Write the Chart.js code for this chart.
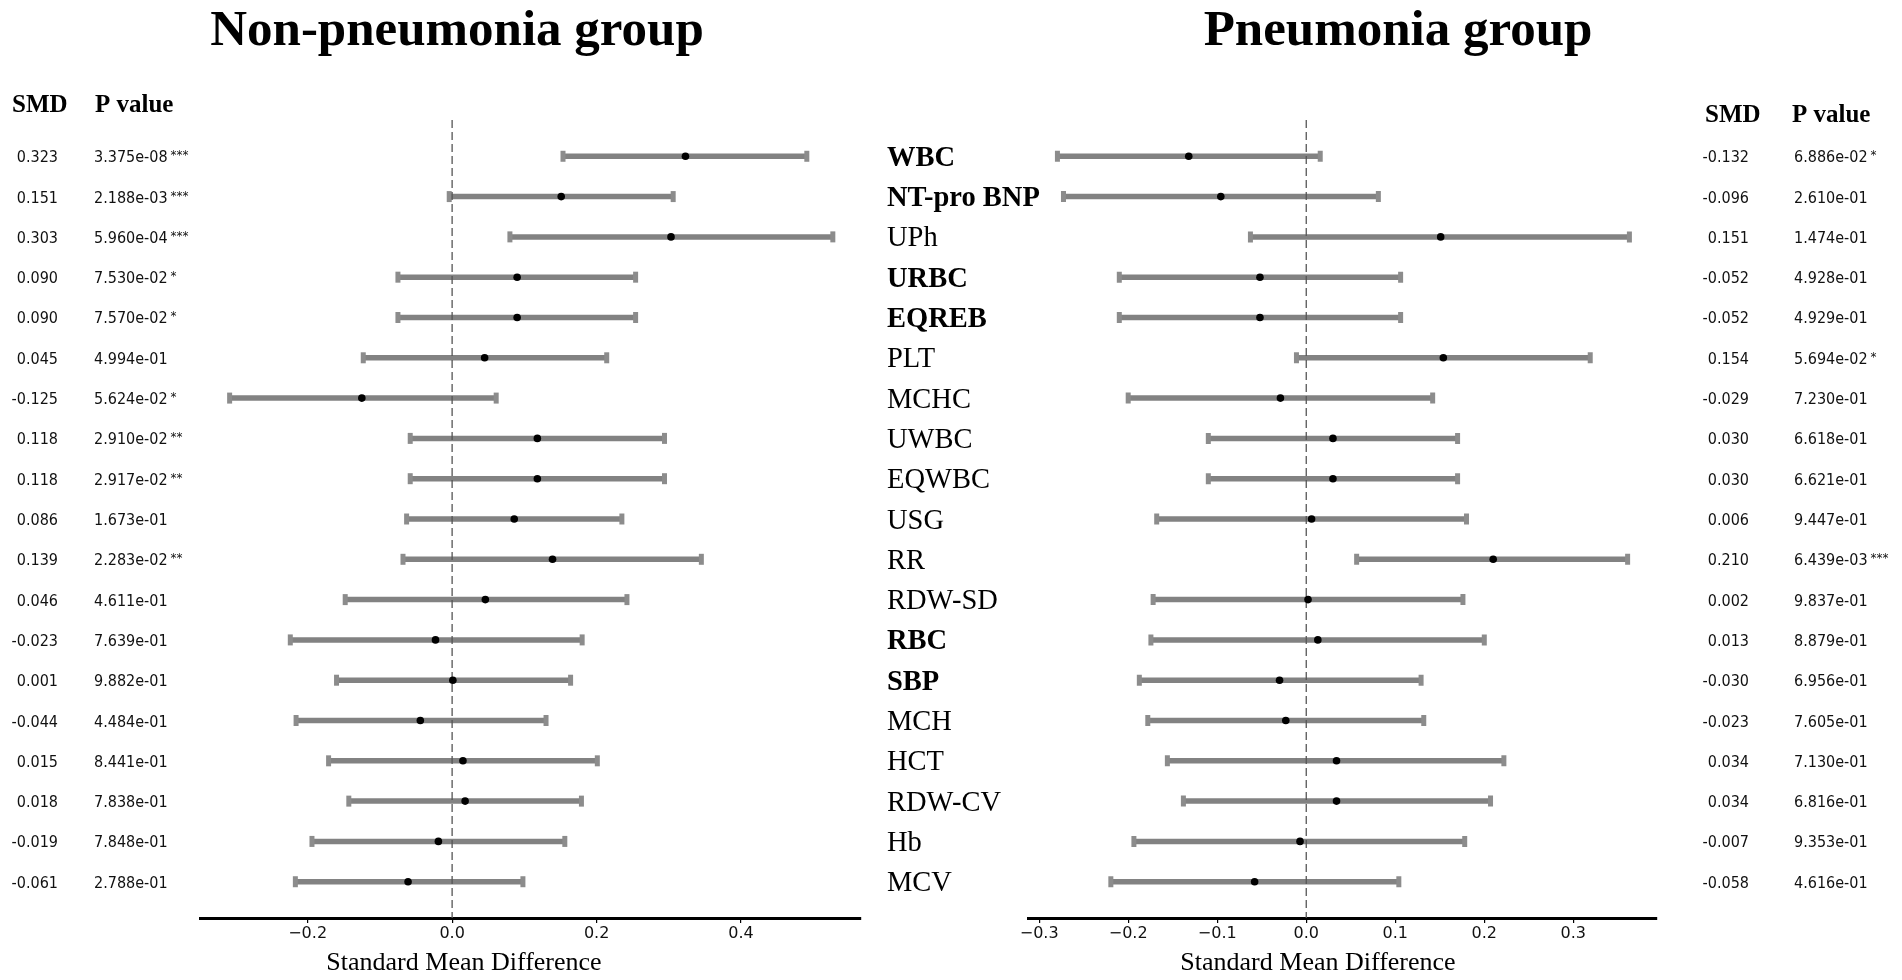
<!DOCTYPE html>
<html><head><meta charset="utf-8">
<script src="https://cdn.jsdelivr.net/npm/chart.js@4.4.1/dist/chart.umd.min.js"></script>
<style>html,body{margin:0;padding:0;background:#fff;overflow:hidden;width:1902px;height:980px}
canvas{position:absolute;left:0;top:0}</style></head>
<body>
<canvas id="cl" width="1902" height="980"></canvas>
<canvas id="cr" width="1902" height="980"></canvas>
<script>
const categories = ['WBC','NT-pro BNP','UPh','URBC','EQREB','PLT','MCHC','UWBC','EQWBC','USG','RR','RDW-SD','RBC','SBP','MCH','HCT','RDW-CV','Hb','MCV'];
const boldCategories = ['WBC','NT-pro BNP','URBC','EQREB','RBC','SBP'];

const nonSMD   = [0.323,0.151,0.303,0.090,0.090,0.045,-0.125,0.118,0.118,0.086,0.139,0.046,-0.023,0.001,-0.044,0.015,0.018,-0.019,-0.061];
const nonLower = [0.1535,-0.004,0.080,-0.075,-0.075,-0.123,-0.308,-0.058,-0.058,-0.063,-0.068,-0.148,-0.224,-0.160,-0.216,-0.171,-0.143,-0.194,-0.217];
const nonUpper = [0.491,0.306,0.527,0.254,0.254,0.214,0.061,0.294,0.294,0.235,0.345,0.242,0.180,0.164,0.130,0.201,0.179,0.156,0.098];
const nonP     = ['3.375e-08','2.188e-03','5.960e-04','7.530e-02','7.570e-02','4.994e-01','5.624e-02','2.910e-02','2.917e-02','1.673e-01','2.283e-02','4.611e-01','7.639e-01','9.882e-01','4.484e-01','8.441e-01','7.838e-01','7.848e-01','2.788e-01'];
const nonStars = ['***','***','***','*','*','','*','**','**','','**','','','','','','','',''];

const pneSMD   = [-0.132,-0.096,0.151,-0.052,-0.052,0.154,-0.029,0.030,0.030,0.006,0.210,0.002,0.013,-0.030,-0.023,0.034,0.034,-0.007,-0.058];
const pneLower = [-0.2795,-0.2727,-0.0627,-0.210,-0.210,-0.011,-0.200,-0.110,-0.110,-0.168,0.0566,-0.172,-0.1745,-0.1875,-0.178,-0.156,-0.138,-0.1936,-0.2195];
const pneUpper = [0.0157,0.081,0.363,0.106,0.106,0.319,0.142,0.170,0.170,0.180,0.361,0.176,0.200,0.129,0.132,0.222,0.207,0.178,0.104];
const pneP     = ['6.886e-02','2.610e-01','1.474e-01','4.928e-01','4.929e-01','5.694e-02','7.230e-01','6.618e-01','6.621e-01','9.447e-01','6.439e-03','9.837e-01','8.879e-01','6.956e-01','7.605e-01','7.130e-01','6.816e-01','9.353e-01','4.616e-01'];
const pneStars = ['*','','','','','*','','','','','***','','','','','','','',''];

const nonTicks = [-0.2, 0.0, 0.2, 0.4];
const pneTicks = [-0.3, -0.2, -0.1, 0.0, 0.1, 0.2, 0.3];

const SERIF = '"Liberation Serif", "Times New Roman", serif';
const NUMF = '"DejaVu Sans Condensed", "Open Sans", sans-serif';

function fmtSMD(v){ return v.toFixed(3); }

function drawRowsText(ctx, yScale, smd, pv, stars, smdRight, pLeft) {
  for (let i = 0; i < smd.length; i++) {
    const yy = yScale.getPixelForValue(i);
    ctx.font = '16px ' + NUMF;
    ctx.textAlign = 'right';
    ctx.fillStyle = '#111';
    ctx.fillText(fmtSMD(smd[i]), smdRight, yy + 6);
    ctx.textAlign = 'left';
    ctx.fillText(pv[i], pLeft, yy + 6);
    if (stars[i]) {
      const w = ctx.measureText(pv[i]).width;
      ctx.font = '12px "DejaVu Sans", sans-serif';
      ctx.fillText(stars[i], pLeft + w + 3, yy + 3);
    }
  }
}

function drawLeftTexts(chart) {
  const ctx = chart.ctx, y = chart.scales.y;
  ctx.save();
  ctx.fillStyle = '#000';
  ctx.textAlign = 'center';
  ctx.font = 'bold 51px ' + SERIF;
  ctx.fillText('Non-pneumonia group', 457, 45);
  ctx.textAlign = 'left';
  ctx.font = 'bold 25px ' + SERIF;
  ctx.fillText('SMD', 12, 112);
  ctx.fillText('P value', 95, 112);
  drawRowsText(ctx, y, nonSMD, nonP, nonStars, 58, 94);
  ctx.fillStyle = '#000';
  ctx.textAlign = 'center';
  ctx.font = '26px ' + SERIF;
  ctx.fillText('Standard Mean Difference', 464, 970);
  ctx.restore();
}

function drawRightTexts(chart) {
  const ctx = chart.ctx, y = chart.scales.y;
  ctx.save();
  ctx.fillStyle = '#000';
  ctx.textAlign = 'center';
  ctx.font = 'bold 51px ' + SERIF;
  ctx.fillText('Pneumonia group', 1398, 45);
  ctx.textAlign = 'left';
  ctx.font = 'bold 25px ' + SERIF;
  ctx.fillText('SMD', 1705, 122);
  ctx.fillText('P value', 1792, 122);
  drawRowsText(ctx, y, pneSMD, pneP, pneStars, 1749, 1794);
  // category labels
  ctx.fillStyle = '#000';
  ctx.textAlign = 'left';
  categories.forEach((c, i) => {
    const yy = y.getPixelForValue(i);
    ctx.font = (boldCategories.includes(c) ? 'bold ' : '') + '28.5px ' + SERIF;
    ctx.fillText(c, 887, yy + 9.5);
  });
  ctx.textAlign = 'center';
  ctx.font = '26px ' + SERIF;
  ctx.fillText('Standard Mean Difference', 1318, 970);
  ctx.restore();
}

function makeChart(id, smd, lo, hi, xmin, xmax, ticks, padL, padR, drawFn) {
  const datasets = [];
  datasets.push({type:'scatter', data: smd.map((v,i)=>({x:v,y:i})), pointRadius:3.8, pointHoverRadius:3.8,
                 backgroundColor:'#000', borderColor:'#000', borderWidth:0, order:0});
  datasets.push({type:'line', data:[{x:0,y:-0.9},{x:0,y:18.9}], borderColor:'#555', borderWidth:1.3,
                 borderDash:[8,4], pointRadius:0, order:1});
  lo.forEach((l,i) => datasets.push({type:'line', data:[{x:l,y:i},{x:hi[i],y:i}], borderColor:'#828282',
                 borderWidth:5.5, borderCapStyle:'butt', pointStyle:'line', pointRotation:90, pointRadius:5.5,
                 pointBorderWidth:5, pointBorderColor:'#8c8c8c', pointBackgroundColor:'#8c8c8c', order:2}));
  return new Chart(document.getElementById(id), {
    type:'scatter',
    data:{datasets},
    options:{
      responsive:false, animation:false, events:[],
      layout:{padding:{left:padL, right:padR, top:120, bottom:22}},
      plugins:{legend:{display:false}, tooltip:{enabled:false}},
      scales:{
        x:{type:'linear', position:'bottom', min:xmin, max:xmax,
           afterFit(s){ s.height = 40; },
           afterBuildTicks(s){ s.ticks = ticks.map(v => ({value:v})); },
           grid:{display:true, drawOnChartArea:false, drawTicks:true, tickLength:5, color:'#000', lineWidth:1.2},
           border:{display:true, color:'#000', width:3},
           ticks:{font:{family:'"DejaVu Sans", sans-serif', size:16}, color:'#111', padding:1, maxRotation:0,
                  autoSkip:false, callback:(v) => (v < -1e-9 ? '\u2212' : '') + Math.abs(v).toFixed(1)}},
        y:{type:'linear', min:-0.9, max:18.9, reverse:true, display:false}
      }
    },
    plugins:[{id:'texts', afterDraw: drawFn}]
  });
}

makeChart('cl', nonSMD, nonLower, nonUpper, -0.349, 0.566, nonTicks, 200, 1041, drawLeftTexts);
makeChart('cr', pneSMD, pneLower, pneUpper, -0.312, 0.394, pneTicks, 1028.5, 245, drawRightTexts);
</script>
</body></html>
